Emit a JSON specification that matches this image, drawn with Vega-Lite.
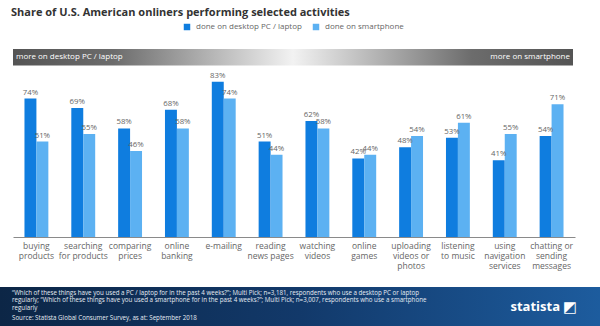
{
  "$schema": "https://vega.github.io/schema/vega-lite/v6.json",
  "padding": {"left": 0, "right": 0, "top": 7, "bottom": 0},
  "background": "white",
  "spacing": 17,
  "config": {
    "view": {"stroke": null},
    "font": "Open Sans"
  },
  "datasets": {
    "shares": [
      {"activity": "buying|products", "device": "done on desktop PC / laptop", "share": 0.74},
      {"activity": "buying|products", "device": "done on smartphone", "share": 0.51},
      {"activity": "searching|for products", "device": "done on desktop PC / laptop", "share": 0.69},
      {"activity": "searching|for products", "device": "done on smartphone", "share": 0.55},
      {"activity": "comparing|prices", "device": "done on desktop PC / laptop", "share": 0.58},
      {"activity": "comparing|prices", "device": "done on smartphone", "share": 0.46},
      {"activity": "online|banking", "device": "done on desktop PC / laptop", "share": 0.68},
      {"activity": "online|banking", "device": "done on smartphone", "share": 0.58},
      {"activity": "e-mailing", "device": "done on desktop PC / laptop", "share": 0.83},
      {"activity": "e-mailing", "device": "done on smartphone", "share": 0.74},
      {"activity": "reading|news pages", "device": "done on desktop PC / laptop", "share": 0.51},
      {"activity": "reading|news pages", "device": "done on smartphone", "share": 0.44},
      {"activity": "watching|videos", "device": "done on desktop PC / laptop", "share": 0.62},
      {"activity": "watching|videos", "device": "done on smartphone", "share": 0.58},
      {"activity": "online|games", "device": "done on desktop PC / laptop", "share": 0.42},
      {"activity": "online|games", "device": "done on smartphone", "share": 0.44},
      {"activity": "uploading|videos or|photos", "device": "done on desktop PC / laptop", "share": 0.48},
      {"activity": "uploading|videos or|photos", "device": "done on smartphone", "share": 0.54},
      {"activity": "listening|to music", "device": "done on desktop PC / laptop", "share": 0.53},
      {"activity": "listening|to music", "device": "done on smartphone", "share": 0.61},
      {"activity": "using|navigation|services", "device": "done on desktop PC / laptop", "share": 0.41},
      {"activity": "using|navigation|services", "device": "done on smartphone", "share": 0.55},
      {"activity": "chatting or|sending|messages", "device": "done on desktop PC / laptop", "share": 0.54},
      {"activity": "chatting or|sending|messages", "device": "done on smartphone", "share": 0.71}
    ],
    "banner": [{"left": "more on desktop PC / laptop", "right": "more on smartphone"}],
    "footer": [
      {
        "note": "\u201cWhich of these things have you used a PC / laptop for in the past 4 weeks?\u201d; Multi Pick; n=3,181, respondents who use a desktop PC or laptop\nregularly; \u201cWhich of these things have you used a smartphone for in the past 4 weeks?\u201d; Multi Pick; n=3,007, respondents who use a smartphone\nregularly",
        "source": "Source: Statista Global Consumer Survey, as at: September 2018",
        "logo": "statista",
        "icon": "\u25e9"
      }
    ]
  },
  "vconcat": [
    {
      "width": 600,
      "height": 189,
      "title": {
        "text": "Share of U.S. American onliners performing selected activities",
        "anchor": "start",
        "dx": 11,
        "fontSize": 11,
        "fontWeight": "bold",
        "color": "#333333",
        "offset": 30
      },
      "resolve": {"scale": {"x": "independent"}, "axis": {"x": "independent"}},
      "layer": [
        {
          "data": {"name": "banner"},
          "mark": {
            "type": "rect",
            "color": {
              "gradient": "linear", "x1": 0, "x2": 1, "y1": 0, "y2": 0,
              "stops": [
                {"offset": 0, "color": "#545454"},
                {"offset": 0.18, "color": "#6c6c6c"},
                {"offset": 0.5, "color": "#f2f2f2"},
                {"offset": 0.82, "color": "#6c6c6c"},
                {"offset": 1, "color": "#545454"}
              ]
            }
          },
          "encoding": {
            "x": {"datum": 0, "type": "quantitative", "scale": {"domain": [0, 1], "range": [13, 573]}, "axis": null},
            "x2": {"datum": 1},
            "y": {"datum": 0.916, "type": "quantitative", "scale": {"domain": [0, 1.01], "nice": false, "zero": true}, "axis": null},
            "y2": {"datum": 1.005}
          }
        },
        {
          "data": {"name": "banner"},
          "mark": {"type": "text", "align": "left", "baseline": "middle", "dx": 3, "fontSize": 8, "color": "#ffffff"},
          "encoding": {
            "x": {"datum": 0, "type": "quantitative", "scale": {"domain": [0, 1], "range": [13, 573]}, "axis": null},
            "y": {"datum": 0.96, "type": "quantitative", "axis": null},
            "text": {"field": "left"}
          }
        },
        {
          "data": {"name": "banner"},
          "mark": {"type": "text", "align": "right", "baseline": "middle", "dx": -3, "fontSize": 8, "color": "#ffffff"},
          "encoding": {
            "x": {"datum": 1, "type": "quantitative", "scale": {"domain": [0, 1], "range": [13, 573]}, "axis": null},
            "y": {"datum": 0.96, "type": "quantitative", "axis": null},
            "text": {"field": "right"}
          }
        },
        {
          "data": {"name": "shares"},
          "mark": {"type": "bar"},
          "encoding": {
            "x": {
              "field": "activity", "type": "nominal", "sort": null,
              "scale": {"range": [13, 575], "paddingInner": 0.49, "paddingOuter": 0.245},
              "axis": {
                "title": null, "labelAngle": 0, "ticks": false, "orient": "bottom",
                "domainColor": "#8a8a8a", "domainWidth": 1,
                "labelColor": "#666666", "labelFontSize": 8.5, "labelLineHeight": 10,
                "labelPadding": 4, "labelExpr": "split(datum.label, '|')"
              }
            },
            "xOffset": {"field": "device", "type": "nominal"},
            "y": {"field": "share", "type": "quantitative", "scale": {"domain": [0, 1.01], "nice": false}, "axis": null},
            "color": {
              "field": "device", "type": "nominal",
              "scale": {"domain": ["done on desktop PC / laptop", "done on smartphone"], "range": ["#0f7ddf", "#5cb1f2"]},
              "legend": {
                "title": null, "orient": "none", "direction": "horizontal",
                "legendX": 183, "legendY": -25, "gridAlign": "none",
                "symbolType": "square", "symbolSize": 42, "symbolStrokeWidth": 0,
                "labelFontSize": 8, "labelColor": "#666666", "columnPadding": 10, "labelOffset": 5
              }
            }
          }
        },
        {
          "data": {"name": "shares"},
          "mark": {"type": "text", "baseline": "bottom", "dy": -2, "fontSize": 7.8, "color": "#666666"},
          "encoding": {
            "x": {
              "field": "activity", "type": "nominal", "sort": null,
              "scale": {"range": [13, 575], "paddingInner": 0.49, "paddingOuter": 0.245},
              "axis": null
            },
            "xOffset": {"field": "device", "type": "nominal"},
            "y": {"field": "share", "type": "quantitative", "axis": null},
            "text": {"field": "share", "type": "quantitative", "format": ".0%"}
          }
        }
      ]
    },
    {
      "width": 600,
      "height": 39,
      "data": {"name": "footer"},
      "layer": [
        {
          "mark": {
            "type": "rect",
            "color": {
              "gradient": "linear", "x1": 0, "x2": 1, "y1": 0, "y2": 0,
              "stops": [
                {"offset": 0, "color": "#0c2646"},
                {"offset": 0.5, "color": "#12396a"},
                {"offset": 1, "color": "#1d5c9e"}
              ]
            }
          },
          "encoding": {
            "x": {"datum": 0, "type": "quantitative", "scale": {"domain": [0, 1]}, "axis": null},
            "x2": {"datum": 1},
            "y": {"datum": 0, "type": "quantitative", "scale": {"domain": [0, 1]}, "axis": null},
            "y2": {"datum": 1}
          }
        },
        {
          "mark": {"type": "text", "align": "left", "baseline": "top", "lineBreak": "\n", "lineHeight": 7.5, "dx": 12, "dy": 2.5, "fontSize": 6.2, "color": "#e6ecf3"},
          "encoding": {
            "x": {"datum": 0, "type": "quantitative"},
            "y": {"datum": 1, "type": "quantitative"},
            "text": {"field": "note"}
          }
        },
        {
          "mark": {"type": "text", "align": "left", "baseline": "bottom", "dx": 12, "dy": -5, "fontSize": 6.2, "color": "#e6ecf3"},
          "encoding": {
            "x": {"datum": 0, "type": "quantitative"},
            "y": {"datum": 0, "type": "quantitative"},
            "text": {"field": "source"}
          }
        },
        {
          "mark": {"type": "text", "align": "right", "baseline": "middle", "dx": -40, "dy": 0, "fontSize": 13, "fontWeight": "bold", "color": "#ffffff"},
          "encoding": {
            "x": {"datum": 1, "type": "quantitative"},
            "y": {"datum": 0.5, "type": "quantitative"},
            "text": {"field": "logo"}
          }
        },
        {
          "mark": {"type": "text", "align": "right", "baseline": "middle", "dx": -23, "dy": 0, "fontSize": 15, "color": "#ffffff", "font": "DejaVu Sans"},
          "encoding": {
            "x": {"datum": 1, "type": "quantitative"},
            "y": {"datum": 0.5, "type": "quantitative"},
            "text": {"field": "icon"}
          }
        }
      ]
    }
  ]
}
